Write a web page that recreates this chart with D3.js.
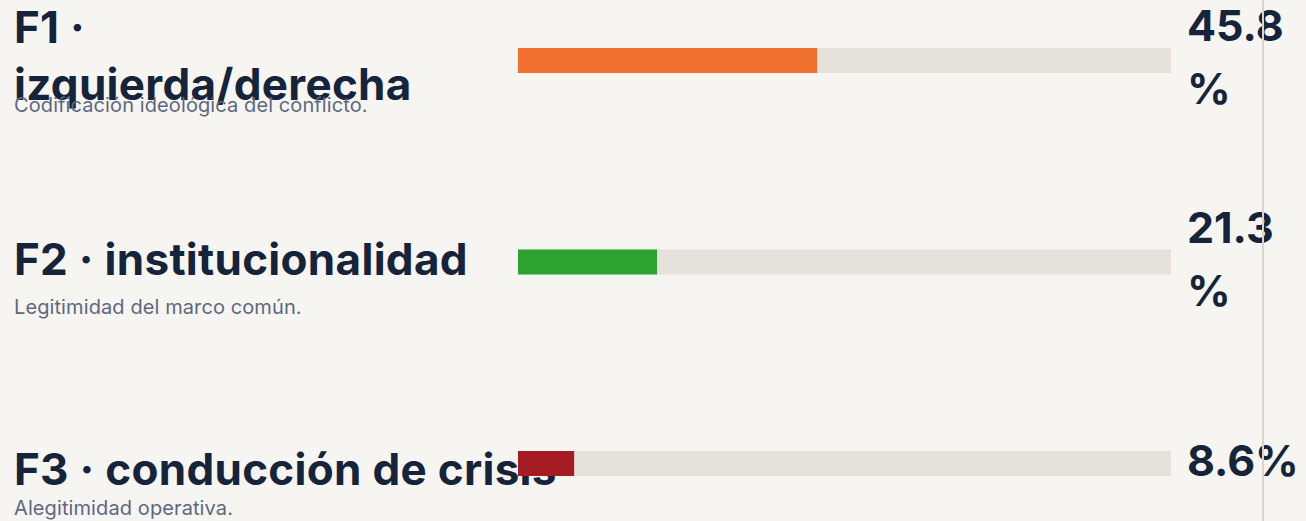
<!DOCTYPE html>
<html lang="es">
<head>
<meta charset="utf-8">
<script src="https://cdn.jsdelivr.net/npm/d3@7/dist/d3.min.js"></script>
<style>
  html, body { margin: 0; padding: 0; background: #f7f5f1; }
  svg { display: block; }
</style>
</head>
<body>
<svg id="chart" width="1306" height="521"></svg>
<script>
// Factor shares (percent of coded items)
const factorIds = ["F1", "F2", "F3"];
const factorNames = ["izquierda/derecha", "institucionalidad", "conducción de crisis"];
const factorNotes = [
  "Codificación ideológica del conflicto.",
  "Legitimidad del marco común.",
  "Alegitimidad operativa."
];
const factorShares = [45.8, 21.3, 8.6];
const factorColors = ["#f0712f", "#2ca32f", "#a51d22"];

const W = 1306, H = 521;
const ink = "#15243b", muted = "#5d6880";
const font = "Inter, 'Noto Sans', sans-serif";

const svg = d3.select("#chart");
svg.append("rect").attr("width", W).attr("height", H).attr("fill", "#f7f5f1");

const rows = factorIds.map((id, i) => ({
  id, name: factorNames[i], note: factorNotes[i],
  value: factorShares[i], color: factorColors[i]
}));

const x = d3.scaleLinear().domain([0, 100]).range([518, 1171]);
const y = d3.scalePoint().domain(factorIds).range([48, 451]);
const barH = 25;

// title lines per row, with baselines relative to the bar top
const titleLines = rows.map((r, i) => {
  if (i === 0) return [[r.id + " ·", -5], [r.name, 52]];
  return [[r.id + " · " + r.name, i === 1 ? 25 : 34]];
});
// value label lines (wrapped in the narrow value column)
const valueLines = rows.map(r => {
  const s = d3.format(".1f")(r.value);
  return s.length > 3 ? [s, "%"] : [s + "%"];
});

const g = svg.append("g");

rows.forEach((r, i) => {
  const top = y(r.id);
  const row = g.append("g");

  const t = row.append("text")
    .attr("font-family", font).attr("font-weight", 700)
    .attr("font-size", 44).attr("letter-spacing", 0.3).attr("fill", ink);
  titleLines[i].forEach(([txt, dy]) => {
    t.append("tspan").attr("x", 14).attr("y", top + dy).text(txt);
  });

  row.append("text")
    .attr("x", 14).attr("y", top + 64)
    .attr("font-family", font).attr("font-size", 20).attr("letter-spacing", 0.1)
    .attr("fill", muted).text(r.note);

  row.append("rect")
    .attr("x", x(0)).attr("y", top)
    .attr("width", x(100) - x(0)).attr("height", barH)
    .attr("fill", "#e5e2db");
  row.append("rect")
    .attr("x", x(0)).attr("y", top)
    .attr("width", x(r.value) - x(0)).attr("height", barH)
    .attr("fill", r.color);

  const lines = valueLines[i];
  const lh = 63;
  const firstBase = top + barH / 2 + 12 - (lines.length - 1) * lh / 2;
  const v = row.append("text")
    .attr("font-family", font).attr("font-weight", 700)
    .attr("font-size", 43).attr("fill", ink);
  lines.forEach((txt, k) => {
    v.append("tspan").attr("x", 1187).attr("y", firstBase + k * lh).text(txt);
  });
});

// column divider
svg.append("rect")
  .attr("x", 1262).attr("y", 0).attr("width", 2).attr("height", H)
  .attr("fill", "#d8d5ce");
</script>
</body>
</html>
